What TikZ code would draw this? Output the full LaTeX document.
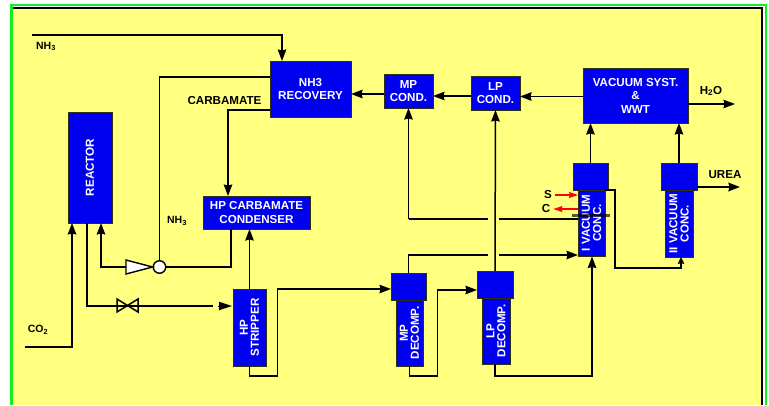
\documentclass[tikz,border=0pt]{standalone}
\usepackage{fontspec}
\setmainfont{Liberation Sans}
\usetikzlibrary{arrows.meta}
\usetikzlibrary{calc}
\definecolor{panelyellow}{HTML}{FFFF80}
\definecolor{framegreen}{HTML}{10F020}
\definecolor{unitblue}{HTML}{0000F0}
\definecolor{unitedge}{HTML}{303010}
\tikzset{
  unit/.style={draw=unitedge,line width=0.9pt,fill=unitblue,text=white,inner sep=0pt,outer sep=0pt,
    align=center,font=\bfseries\fontsize{11.6}{13.5}\selectfont},
  tag/.style={inner sep=0pt,font=\bfseries\fontsize{11.6}{13}\selectfont},
  smalltag/.style={inner sep=0pt,font=\bfseries\fontsize{10.5}{12}\selectfont},
  flow/.style={draw=black,line width=1.5pt,-{Stealth[length=11.5pt,width=8.5pt,inset=1pt]}},
  pipe/.style={draw=black,line width=1.5pt},
  steam/.style={draw=red,line width=1.4pt,-{Stealth[length=9pt,width=6pt,inset=1pt]}},
}
\begin{document}
\begin{tikzpicture}[x=1pt,y=-1pt]
        \useasboundingbox (0,0) rectangle (769,405);
        \fill[white] (0,0) rectangle (769,405);
        \fill[panelyellow] (13,8) rectangle (762,405);
        \draw[framegreen,line width=2.4pt] (11.5,405) -- (11.5,5) -- (766,5) -- (766,405);
        \draw[black,line width=1.2pt] (13,8) -- (762,8) -- (762,405);

        % top line
        \node[unit,minimum width=81pt,minimum height=56pt] (recovery) at (310.5,89) {NH3\\RECOVERY};
        \node[unit,minimum width=49pt,minimum height=34pt] (mpcond) at (408.5,91) {MP\\COND.};
        \node[unit,minimum width=49pt,minimum height=34pt] (lpcond) at (495.5,93) {LP\\COND.};
        \node[unit,minimum width=105pt,minimum height=55pt] (vacsyst) at (635.5,95.5) {VACUUM SYST.\\\&\\WWT};
        % left side
        \node[unit,minimum width=44pt,minimum height=111pt] (reactor) at (90,167.5) {\rotatebox{90}{REACTOR}};
        \node[unit,minimum width=107pt,minimum height=33pt] (hpcond) at (256.5,212.5) {HP CARBAMATE\\CONDENSER};
        \node[unit,minimum width=33pt,minimum height=77pt] (stripper) at (249.5,327.5) {\rotatebox{90}{\shortstack{HP\\STRIPPER}}};
        % columns
        \node[unit,minimum width=27pt,minimum height=66pt] (mpbody) at (409.5,333) {\rotatebox{90}{\shortstack{MP\\DECOMP.}}};
        \node[unit,minimum width=35pt,minimum height=27pt] (mpcap) at (408.5,286.5) {};
        \node[unit,minimum width=28pt,minimum height=66pt] (lpbody) at (496,331) {\rotatebox{90}{\shortstack{LP\\DECOMP.}}};
        \node[unit,minimum width=36pt,minimum height=27pt] (lpcap) at (495,284.5) {};
        \node[unit,minimum width=27pt,minimum height=66pt] (vaconebody) at (591.5,223) {\rotatebox{90}{\shortstack{I VACUUM\\CONC.}}};
        \node[unit,minimum width=35pt,minimum height=27pt] (vaconecap) at (590.5,176.5) {};
        \node[unit,minimum width=28pt,minimum height=67pt] (vactwobody) at (679,223.5) {\rotatebox{90}{\shortstack{II VACUUM\\CONC.}}};
        \node[unit,minimum width=36pt,minimum height=27pt] (vactwocap) at (679,176.5) {};

        % labels
        \node[smalltag] (nhtop) at (46,46.5) {NH\textsubscript{3}};
        \node[smalltag] (nhmid) at (177,221) {NH\textsubscript{3}};
        \node[smalltag] (cotwo) at (38,330) {CO\textsubscript{2}};
        \node[tag] (carbamate) at (224.5,101) {CARBAMATE};
        \node[tag] (water) at (711,91) {H\textsubscript{2}O};
        \node[tag] (urea) at (725,175) {UREA};
        \node[tag] (steamin) at (548,195) {S};
        \node[tag] (steamout) at (546,209) {C};

        % free ends
        \coordinate (nhstart) at (32,35);
        \coordinate (costart) at (25,347);
        \coordinate (waterend) at (735,104);
        \coordinate (ureaend) at (740,187);
        \coordinate (feedend) at (213,306);
        \coordinate (feedtip) at (218,306);
        \coordinate (gapleft) at (488,0);
        \coordinate (gapright) at (499,0);

        % pump and valve
        \node[draw=black,line width=1.4pt,fill=white,circle,inner sep=0pt,minimum size=12.5pt] (pump) at (159.5,267) {};
        \coordinate (pumpin) at (126,267);
        \coordinate (valveleft) at (117,305.5);
        \coordinate (valveright) at (138,305.5);

        % feeds
        \draw[flow] (nhstart) -| ([xshift=-28.5pt]recovery.north);
        \draw[flow] (costart) -| ([xshift=-18pt]reactor.south);
        \draw[pipe] ([yshift=12pt]recovery.west) -| (pump.north);
        \draw[flow] ([yshift=-21pt]recovery.west) -| ([xshift=-28.5pt]hpcond.north);

        % reactor loop
        \draw[flow] (pumpin) -| ([xshift=11pt]reactor.south);
        \draw[pipe] (pump.east) -| ([xshift=-25.5pt]hpcond.south);
        \draw[pipe] ([xshift=-3pt]reactor.south) |- (feedend);
        \draw[draw=black,line width=0pt,-{Stealth[length=13pt,width=8.5pt,inset=0pt]}] (feedtip) -- ([xshift=-1pt]feedtip -| stripper.west);
        \draw[flow] (stripper.north) -- (stripper.north |- hpcond.south);
        \draw[draw=black,line width=1.4pt,fill=white] (pumpin) ++(0,-7) -- ++(0,14) -- (pump.west) -- cycle;
        \draw[pipe,line join=miter] ($(valveleft)+(0,-6.5)$) -- ++(0,13) -- ($(valveright)+(0,-6.5)$) -- ++(0,13) -- cycle;

        % bottom line
        \draw[flow] (stripper.south) -- ++(0,10) -- ++(28,0) |- ([yshift=-2.5pt]mpcap.west);
        \draw[flow] (mpbody.south) -- ++(0,10) -- ++(28,0) |- ([yshift=-5.5pt]lpcap.west);
        \draw[flow] ([xshift=-1pt]lpbody.south) -- ++(0,12) -- ++(97,0) -- (592,256.5);

        % gas lines
        \draw[pipe] (mpcap.north) |- (gapleft |- 0,255);
        \draw[flow] (gapright |- 0,255) -- (vaconebody.west |- 0,255);
        \draw[flow] (lpcap.north) -- (lpcond.south);
        \draw[flow] (mpcond.south |- 0,219) -- (mpcond.south);
        \draw[pipe] (mpcond.south |- 0,219) -- (gapleft |- 0,219);
        \draw[pipe] (gapright |- 0,219) -- (vaconebody.west |- 0,219);

        % top arrows
        \draw[flow] ([yshift=-1pt]vacsyst.west) -- (lpcond.east |- 0,96.5);
        \draw[flow] (lpcond.west |- 0,96) -- (mpcond.east |- 0,96);
        \draw[flow,line width=1.8pt] ([yshift=-3pt]mpcond.west) -- (recovery.east |- 0,94);
        \draw[flow] (vaconecap.north) -- (vaconecap.north |- vacsyst.south);
        \draw[flow] (vactwocap.north) -- (vactwocap.north |- vacsyst.south);
        \draw[flow] ([yshift=-8.5pt]vacsyst.east) -- (waterend);
        \draw[flow,line width=2pt] ([yshift=-10.5pt]vactwocap.east) -- (ureaend);

        % between the two vacuum stages
        \draw[flow,-{Stealth[length=7pt,width=6.5pt,inset=1pt]}] (vaconebody.north east) -- ++(10,0) -- ++(0,78) -- ++(66,0) -- ([xshift=2pt]vactwobody.south);

        % steam and condensate
        \draw[steam] ([xshift=3pt]steamin.east) -- (vaconebody.west |- steamin);
        \draw[steam] (vaconebody.west |- steamout) -- ([xshift=3pt]steamout.east);
        \draw[black,opacity=0.65,line width=3pt] (572,215) -- (610,215);
    \end{tikzpicture}
\end{document}
